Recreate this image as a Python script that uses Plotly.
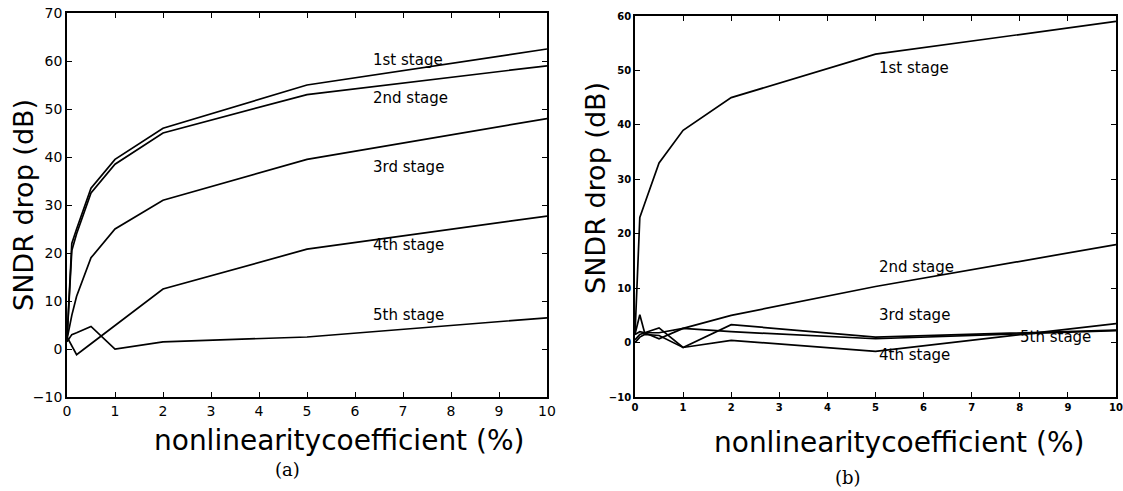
import plotly.graph_objects as go

# nonlinearity coefficient (%)
x_pts = [0, 0.1, 0.2, 0.5, 1, 2, 5, 10]

# Panel (a): SNDR drop (dB)
a_stage1 = [2, 22, 25, 33.5, 39.5, 46, 55, 62.5]
a_stage2 = [2, 20.5, 24, 32.5, 38.5, 45, 53, 59]
a_stage3 = [2, 7, 11, 19, 25, 31, 39.5, 48]
a_stage4 = [2.5, 0.5, -1.2, 1.1, 4.9, 12.5, 20.8, 27.7]
a_stage5 = [1.5, 3, 3.4, 4.7, 0, 1.5, 2.5, 6.5]

# Panel (b): SNDR drop (dB)
b_stage1 = [1.5, 23, 25.5, 33, 39, 45, 53, 59]
b_stage2 = [1.5, 2, 1.8, 0.7, 2.6, 5.0, 10.3, 18]
b_stage3 = [1.5, 5.1, 1.8, 2.7, -0.9, 3.3, 1.0, 2.3]
b_stage4 = [0, 1, 1.5, 1.3, -0.9, 0.4, -1.6, 3.5]
b_stage5 = [0.5, 1.5, 1.8, 1.8, 2.6, 2.0, 0.7, 2.2]

stage_names = ["1st stage", "2nd stage", "3rd stage", "4th stage", "5th stage"]
a_label_x = [6.33, 6.33, 6.33, 6.33, 6.33]
a_label_y = [60.2, 52.3, 37.9, 21.7, 7.1]
b_label_x = [5.03, 5.03, 5.03, 5.03, 7.96]
b_label_y = [50.5, 13.8, 5.1, -2.2, 1.1]

a_ticks_y = [-10, 0, 10, 20, 30, 40, 50, 60, 70]
b_ticks_y = [-10, 0, 10, 20, 30, 40, 50, 60]
x_ticks = list(range(0, 11))

fig = go.Figure()
line_style = dict(color="black", width=1.7)
for ys in [a_stage1, a_stage2, a_stage3, a_stage4, a_stage5]:
    fig.add_trace(go.Scatter(x=x_pts, y=ys, mode="lines", line=line_style,
                             xaxis="x", yaxis="y", showlegend=False, hoverinfo="skip"))
for ys in [b_stage1, b_stage2, b_stage3, b_stage4, b_stage5]:
    fig.add_trace(go.Scatter(x=x_pts, y=ys, mode="lines", line=line_style,
                             xaxis="x2", yaxis="y2", showlegend=False, hoverinfo="skip"))

W, H = 1123, 491
def fx(px):
    return px / W
def fy(py):
    return 1 - py / H

SANS = "DejaVu Sans"
axis_common = dict(showgrid=False, zeroline=False, showline=True, linecolor="black",
                   linewidth=1.8, mirror="ticks", ticks="inside", ticklen=5,
                   tickwidth=1.3, tickcolor="black", automargin=False,
                   ticklabeloverflow="allow")

fig.update_layout(
    width=W, height=H,
    margin=dict(l=0, r=0, t=0, b=0),
    paper_bgcolor="white", plot_bgcolor="white",
    font=dict(family=SANS, color="black"),
    xaxis=dict(domain=[fx(67), fx(547)], range=[0, 10], tickvals=x_ticks,
               tickfont=dict(size=14, family=SANS), anchor="y", **axis_common),
    yaxis=dict(domain=[fy(397), fy(13)], range=[-10, 70], tickvals=a_ticks_y,
               tickfont=dict(size=14, family=SANS), anchor="x", **axis_common),
    xaxis2=dict(domain=[fx(635), fx(1116)], range=[0, 10], tickvals=x_ticks,
                tickfont=dict(size=10, family=SANS, weight="bold"), anchor="y2", **axis_common),
    yaxis2=dict(domain=[fy(397), fy(16)], range=[-10, 60], tickvals=b_ticks_y,
                tickfont=dict(size=10, family=SANS, weight="bold"), anchor="x2", **axis_common),
)

annotations = []
for name, lx, ly in zip(stage_names, a_label_x, a_label_y):
    annotations.append(dict(x=lx, y=ly, xref="x", yref="y", text=name, showarrow=False,
                            xanchor="left", yanchor="middle",
                            font=dict(size=15, family=SANS, color="black")))
for name, lx, ly in zip(stage_names, b_label_x, b_label_y):
    annotations.append(dict(x=lx, y=ly, xref="x2", yref="y2", text=name, showarrow=False,
                            xanchor="left", yanchor="middle",
                            font=dict(size=15, family=SANS, color="black")))

ytitle_font = dict(size=27, family=SANS, color="black")
xtitle_font = dict(size=28, family=SANS, color="black")
annotations += [
    dict(x=fx(23), y=fy(205), xref="paper", yref="paper", text="SNDR drop (dB)",
         textangle=-90, showarrow=False, xanchor="center", yanchor="middle", font=ytitle_font),
    dict(x=fx(595), y=fy(188), xref="paper", yref="paper", text="SNDR drop (dB)",
         textangle=-90, showarrow=False, xanchor="center", yanchor="middle", font=ytitle_font),
    dict(x=fx(339), y=fy(440), xref="paper", yref="paper", text="nonlinearitycoefficient (%)",
         showarrow=False, xanchor="center", yanchor="middle", font=xtitle_font),
    dict(x=fx(899), y=fy(442), xref="paper", yref="paper", text="nonlinearitycoefficient (%)",
         showarrow=False, xanchor="center", yanchor="middle", font=xtitle_font),
    dict(x=fx(287), y=fy(469), xref="paper", yref="paper", text="(a)",
         showarrow=False, xanchor="center", yanchor="middle", font=dict(size=18, family="DejaVu Serif", color="black")),
    dict(x=fx(848), y=fy(477), xref="paper", yref="paper", text="(b)",
         showarrow=False, xanchor="center", yanchor="middle", font=dict(size=18, family="DejaVu Serif", color="black")),
]
fig.update_layout(annotations=annotations)

# remove the browser's default 8px body margin so the figure fills the window exactly
fig.write_html("out.html", config={"displayModeBar": False},
               post_script="document.body.style.margin='0';")
